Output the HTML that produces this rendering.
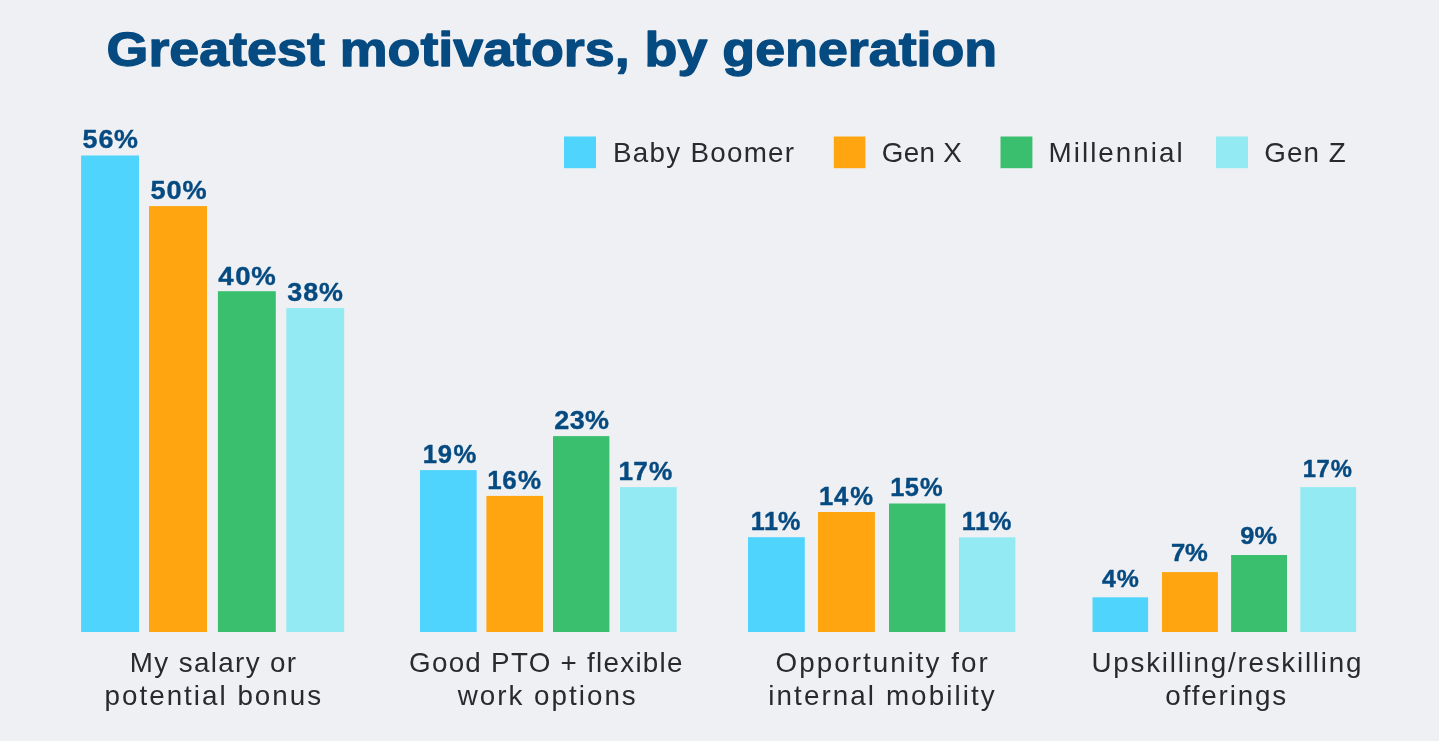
<!DOCTYPE html><html><head><meta charset="utf-8"><title>Greatest motivators, by generation</title><style>html,body{margin:0;padding:0;background:#eff0f3;}body{width:1439px;height:741px;overflow:hidden;}svg{display:block;will-change:transform;}text{font-family:"Liberation Sans",Arial,sans-serif;}</style></head><body>
<svg width="1439" height="741" viewBox="0 0 1439 741">
<rect x="0" y="0" width="1439" height="741" fill="#eff0f3"/>
<text x="106.60" y="65.55" font-size="48.7" font-weight="bold" fill="#054a80" stroke="#054a80" stroke-width="1.3" stroke-linejoin="round" textLength="890.61" lengthAdjust="spacingAndGlyphs">Greatest motivators, by generation</text>
<rect x="564" y="136.5" width="32.00" height="31.70" fill="#4fd4fe"/>
<text x="0" y="0" transform="translate(613.01 162.30) scale(1.03 1)" font-size="27" font-weight="normal" fill="#2a2a2c" letter-spacing="1.228">Baby Boomer</text>
<rect x="833.8" y="136.5" width="31.60" height="31.70" fill="#fea510"/>
<text x="0" y="0" transform="translate(881.71 162.30) scale(1.03 1)" font-size="27" font-weight="normal" fill="#2a2a2c" letter-spacing="0.334">Gen X</text>
<rect x="1000.5" y="136.5" width="31.90" height="31.70" fill="#3abf6f"/>
<text x="0" y="0" transform="translate(1048.51 162.30) scale(1.03 1)" font-size="27" font-weight="normal" fill="#2a2a2c" letter-spacing="1.985">Millennial</text>
<rect x="1216" y="136.5" width="32.00" height="31.70" fill="#93eaf2"/>
<text x="0" y="0" transform="translate(1264.31 162.30) scale(1.03 1)" font-size="27" font-weight="normal" fill="#2a2a2c" letter-spacing="0.991">Gen Z</text>
<rect x="81.1" y="155.5" width="57.90" height="476.50" fill="#4fd4fe"/>
<text x="76.78 91.62 105.97" y="0" transform="translate(0 148.30) scale(1.0748 1)" font-size="25.0" font-weight="bold" fill="#054a80" stroke="#054a80" stroke-width="0.372" stroke-linejoin="round">56%</text>
<rect x="149" y="206.1" width="58.00" height="425.90" fill="#fea510"/>
<text x="138.67 153.49 168.27" y="0" transform="translate(0 198.80) scale(1.0852 1)" font-size="25.0" font-weight="bold" fill="#054a80" stroke="#054a80" stroke-width="0.369" stroke-linejoin="round">50%</text>
<rect x="217.9" y="291.2" width="57.90" height="340.80" fill="#3abf6f"/>
<text x="197.98 213.25 227.86" y="0" transform="translate(0 284.80) scale(1.1030 1)" font-size="25.0" font-weight="bold" fill="#054a80" stroke="#054a80" stroke-width="0.363" stroke-linejoin="round">40%</text>
<rect x="286.3" y="308.1" width="57.90" height="323.90" fill="#93eaf2"/>
<text x="267.10 281.98 296.73" y="0" transform="translate(0 301.00) scale(1.0753 1)" font-size="25.0" font-weight="bold" fill="#054a80" stroke="#054a80" stroke-width="0.372" stroke-linejoin="round">38%</text>
<text x="0" y="0" transform="translate(129.81 671.90) scale(1.03 1)" font-size="27" font-weight="normal" fill="#2a2a2c" letter-spacing="1.314">My salary or</text>
<text x="0" y="0" transform="translate(104.49 705.00) scale(1.03 1)" font-size="27" font-weight="normal" fill="#2a2a2c" letter-spacing="1.953">potential bonus</text>
<rect x="420" y="470.1" width="56.70" height="161.90" fill="#4fd4fe"/>
<text x="416.69 431.47 446.98" y="0" transform="translate(0 462.70) scale(1.0146 1)" font-size="25.3" font-weight="bold" fill="#054a80" stroke="#054a80" stroke-width="0.394" stroke-linejoin="round">19%</text>
<rect x="486.4" y="495.9" width="56.60" height="136.10" fill="#fea510"/>
<text x="475.86 490.28 505.83" y="0" transform="translate(0 488.70) scale(1.0242 1)" font-size="25.3" font-weight="bold" fill="#054a80" stroke="#054a80" stroke-width="0.391" stroke-linejoin="round">16%</text>
<rect x="553" y="436.1" width="56.40" height="195.90" fill="#3abf6f"/>
<text x="520.54 535.05 549.38" y="0" transform="translate(0 428.55) scale(1.0647 1)" font-size="25.3" font-weight="bold" fill="#054a80" stroke="#054a80" stroke-width="0.376" stroke-linejoin="round">23%</text>
<rect x="620" y="487.1" width="56.70" height="144.90" fill="#93eaf2"/>
<text x="597.11 611.31 626.51" y="0" transform="translate(0 479.70) scale(1.0359 1)" font-size="25.3" font-weight="bold" fill="#054a80" stroke="#054a80" stroke-width="0.386" stroke-linejoin="round">17%</text>
<text x="0" y="0" transform="translate(409.01 672.20) scale(1.03 1)" font-size="27" font-weight="normal" fill="#2a2a2c" letter-spacing="1.237">Good PTO + flexible</text>
<text x="0" y="0" transform="translate(457.70 704.80) scale(1.03 1)" font-size="27" font-weight="normal" fill="#2a2a2c" letter-spacing="1.944">work options</text>
<rect x="748" y="537.2" width="56.80" height="94.80" fill="#4fd4fe"/>
<text x="760.74 774.12 788.45" y="0" transform="translate(0 529.80) scale(0.9869 1)" font-size="25.5" font-weight="bold" fill="#054a80" stroke="#054a80" stroke-width="0.405" stroke-linejoin="round">11%</text>
<rect x="818" y="512" width="56.90" height="120.00" fill="#fea510"/>
<text x="814.67 829.57 845.80" y="0" transform="translate(0 504.55) scale(1.0053 1)" font-size="25.5" font-weight="bold" fill="#054a80" stroke="#054a80" stroke-width="0.398" stroke-linejoin="round">14%</text>
<rect x="889" y="503.5" width="56.40" height="128.50" fill="#3abf6f"/>
<text x="891.47 906.01 921.28" y="0" transform="translate(0 496.30) scale(0.9985 1)" font-size="25.5" font-weight="bold" fill="#054a80" stroke="#054a80" stroke-width="0.401" stroke-linejoin="round">15%</text>
<rect x="959" y="537.3" width="56.40" height="94.70" fill="#93eaf2"/>
<text x="974.68 988.05 1002.39" y="0" transform="translate(0 529.70) scale(0.9867 1)" font-size="25.5" font-weight="bold" fill="#054a80" stroke="#054a80" stroke-width="0.405" stroke-linejoin="round">11%</text>
<text x="0" y="0" transform="translate(775.58 672.20) scale(1.03 1)" font-size="27" font-weight="normal" fill="#2a2a2c" letter-spacing="1.961">Opportunity for</text>
<text x="0" y="0" transform="translate(768.32 704.80) scale(1.03 1)" font-size="27" font-weight="normal" fill="#2a2a2c" letter-spacing="2.017">internal mobility</text>
<rect x="1092.5" y="597.3" width="55.60" height="34.70" fill="#4fd4fe"/>
<text x="1023.96 1037.56" y="0" transform="translate(0 586.70) scale(1.0763 1)" font-size="23.1" font-weight="bold" fill="#054a80" stroke="#054a80" stroke-width="0.372" stroke-linejoin="round">4%</text>
<rect x="1162" y="572.1" width="55.90" height="59.90" fill="#fea510"/>
<text x="1054.95 1067.57" y="0" transform="translate(0 561.40) scale(1.1099 1)" font-size="23.1" font-weight="bold" fill="#054a80" stroke="#054a80" stroke-width="0.360" stroke-linejoin="round">7%</text>
<rect x="1231.1" y="555" width="55.90" height="77.00" fill="#3abf6f"/>
<text x="1132.10 1145.10" y="0" transform="translate(0 544.10) scale(1.0955 1)" font-size="23.1" font-weight="bold" fill="#054a80" stroke="#054a80" stroke-width="0.365" stroke-linejoin="round">9%</text>
<rect x="1300.3" y="487.1" width="55.80" height="144.90" fill="#93eaf2"/>
<text x="1264.19 1277.35 1291.31" y="0" transform="translate(0 476.80) scale(1.0306 1)" font-size="23.1" font-weight="bold" fill="#054a80" stroke="#054a80" stroke-width="0.388" stroke-linejoin="round">17%</text>
<text x="0" y="0" transform="translate(1091.44 672.20) scale(1.03 1)" font-size="27" font-weight="normal" fill="#2a2a2c" letter-spacing="1.707">Upskilling/reskilling</text>
<text x="0" y="0" transform="translate(1165.32 704.80) scale(1.03 1)" font-size="27" font-weight="normal" fill="#2a2a2c" letter-spacing="1.795">offerings</text>
</svg></body></html>
